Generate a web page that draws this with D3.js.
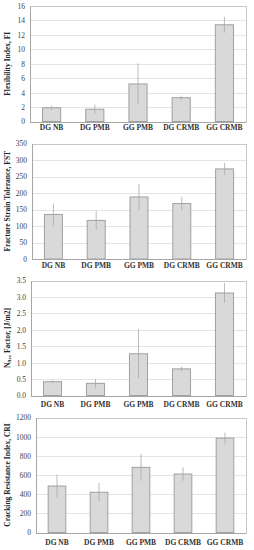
<!DOCTYPE html>
<html><head><meta charset="utf-8">
<script src="https://cdn.jsdelivr.net/npm/d3@7"></script>
<style>html,body{margin:0;padding:0;background:#fff;}svg{display:block;}</style>
</head><body>
<svg id="c" width="254" height="550"></svg>
<script>
const categories = ["DG NB", "DG PMB", "GG PMB", "DG CRMB", "GG CRMB"];

const fiMean = [1.9, 1.7, 5.2, 3.3, 13.4];
const fiErr  = [0.3, 0.65, 2.85, 0.3, 1.1];
const fiTicks = [0, 2, 4, 6, 8, 10, 12, 14, 16];

const fstMean = [135, 117, 188, 168, 273];
const fstErr  = [33, 28, 39, 21, 18];
const fstTicks = [0, 50, 100, 150, 200, 250, 300, 350];

const nflexMean = [0.42, 0.37, 1.27, 0.81, 3.12];
const nflexErr  = [0.04, 0.13, 0.75, 0.07, 0.30];
const nflexTicks = [0.0, 0.5, 1.0, 1.5, 2.0, 2.5, 3.0, 3.5];

const criMean = [485, 420, 680, 610, 985];
const criErr  = [120, 95, 140, 70, 58];
const criTicks = [0, 200, 400, 600, 800, 1000, 1200];

const panels = [
  {mean: fiMean, err: fiErr, ticks: fiTicks, fmt: d3.format("d"), label: "Flexibility Index, FI",
   l: 30, r: 246, t: 6, b: 121.5, catY: 129.5},
  {mean: fstMean, err: fstErr, ticks: fstTicks, fmt: d3.format("d"), label: "Fracture Strain Tolerance, FST",
   l: 32, r: 246, t: 143.5, b: 259, catY: 268},
  {mean: nflexMean, err: nflexErr, ticks: nflexTicks, fmt: d3.format(".1f"), label: "NFLEX",
   l: 31, r: 246, t: 280.5, b: 395.5, catY: 407},
  {mean: criMean, err: criErr, ticks: criTicks, fmt: d3.format("d"), label: "Cracking Resistance Index, CRI",
   l: 36, r: 246, t: 417.5, b: 532.5, catY: 544.5}
];

const svg = d3.select("#c");
const serif = "'Liberation Serif','Times New Roman',serif";

panels.forEach(p => {
  const g = svg.append("g");
  const x = d3.scaleBand().domain(categories).range([p.l, p.r]).paddingInner(0.58).paddingOuter(0.29);
  const y = d3.scaleLinear().domain([p.ticks[0], p.ticks[p.ticks.length-1]]).range([p.b, p.t]);

  // gridlines
  g.selectAll(".grid").data(p.ticks.slice(1)).join("line")
    .attr("x1", p.l).attr("x2", p.r)
    .attr("y1", d => Math.round(y(d)) + 0.5).attr("y2", d => Math.round(y(d)) + 0.5)
    .attr("stroke", "#e4e4e4").attr("stroke-width", 1);

  // plot border
  g.append("rect").attr("x", p.l + 0.5).attr("y", Math.round(p.t) + 0.5)
    .attr("width", p.r - p.l).attr("height", Math.round(p.b) - Math.round(p.t))
    .attr("fill", "none").attr("stroke", "#c8c8c8").attr("stroke-width", 1);

  // y axis
  const yAxis = d3.axisLeft(y).tickValues(p.ticks).tickFormat(p.fmt).tickSize(0).tickPadding(5);
  const ga = g.append("g").attr("transform", `translate(${p.l},0)`).call(yAxis);
  ga.select(".domain").attr("stroke", "#a6a6a6");
  ga.selectAll("text").attr("font-family", serif).attr("font-size", "7.5px").attr("fill", "#404040");

  // bars
  g.selectAll(".bar").data(p.mean).join("rect")
    .attr("x", (d, i) => x(categories[i]))
    .attr("y", d => y(d))
    .attr("width", x.bandwidth())
    .attr("height", d => y(0) - y(d))
    .attr("fill", "#d9d9d9").attr("stroke", "#a0a0a0").attr("stroke-width", 1);

  // error bars
  g.selectAll(".err").data(p.mean).join("line")
    .attr("x1", (d, i) => x(categories[i]) + x.bandwidth()/2)
    .attr("x2", (d, i) => x(categories[i]) + x.bandwidth()/2)
    .attr("y1", (d, i) => y(d + p.err[i]))
    .attr("y2", (d, i) => y(d - p.err[i]))
    .attr("stroke", "#a8a8a8").attr("stroke-width", 0.8);

  // bottom axis line
  g.append("line").attr("x1", p.l).attr("x2", p.r)
    .attr("y1", Math.round(p.b) + 0.5).attr("y2", Math.round(p.b) + 0.5)
    .attr("stroke", "#a6a6a6");

  // category labels
  g.selectAll(".cat").data(categories).join("text")
    .attr("x", d => x(d) + x.bandwidth()/2).attr("y", p.catY)
    .attr("text-anchor", "middle").attr("font-family", serif).attr("font-weight", "bold")
    .attr("font-size", "7.5px").attr("fill", "#333")
    .text(d => d);

  // y label
  const cy = (p.t + p.b) / 2;
  const t = g.append("text").attr("transform", `translate(9.5,${cy}) rotate(-90)`)
    .attr("text-anchor", "middle").attr("font-family", serif).attr("font-weight", "bold")
    .attr("font-size", "7.5px").attr("fill", "#222");
  if (p.label === "NFLEX") {
    t.append("tspan").text("N");
    t.append("tspan").attr("font-size", "5px").attr("dy", "1.5").text("flex");
    t.append("tspan").attr("dy", "-1.5").text(" Factor, [J/m2]");
  } else {
    t.text(p.label);
  }
});
</script>
</body></html>
